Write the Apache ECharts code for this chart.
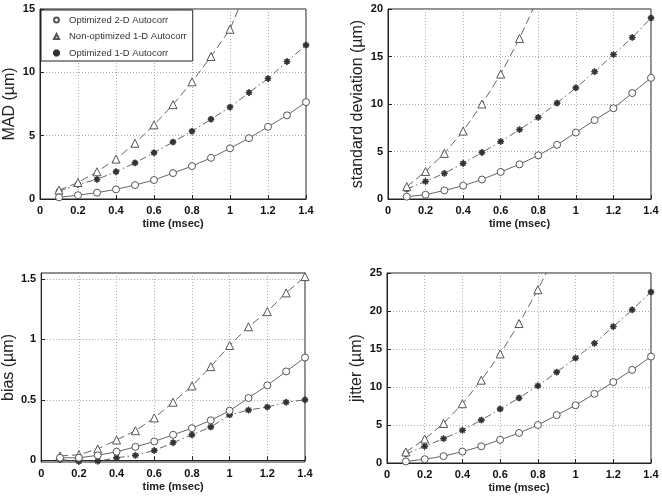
<!DOCTYPE html>
<html><head><meta charset="utf-8">
<script src="https://cdn.jsdelivr.net/npm/echarts@6/dist/echarts.min.js"></script>
<style>html,body{margin:0;padding:0;background:#fff}#c{width:662px;height:496px}</style>
</head><body><div id="c"></div>
<script>
const timeMs = [0.1,0.2,0.3,0.4,0.5,0.6,0.7,0.8,0.9,1.0,1.1,1.2,1.3,1.4];
const xTicks = [0,0.2,0.4,0.6,0.8,1,1.2,1.4];
const seriesNames = ['Optimized 2-D Autocorr','Non-optimized 1-D Autocorr','Optimized 1-D Autocorr'];

const madOpt2D    = [0.13,0.3,0.5,0.76,1.1,1.5,2.05,2.6,3.25,4.0,4.8,5.7,6.6,7.65];
const madNonOpt1D = [0.7,1.3,2.15,3.15,4.4,5.85,7.45,9.25,11.25,13.4,17.0];
const madOpt1D    = [0.6,1.15,1.55,2.15,2.85,3.65,4.5,5.35,6.3,7.25,8.4,9.5,10.85,12.15];

const stdOpt2D    = [0.25,0.45,0.9,1.4,2.05,2.85,3.65,4.6,5.7,7.0,8.3,9.55,11.15,12.75];
const stdNonOpt1D = [1.3,2.9,4.8,7.15,10.0,13.15,16.9,21.2];
const stdOpt1D    = [1.05,1.85,2.7,3.75,4.9,6.05,7.3,8.6,10.1,11.7,13.4,15.2,17.0,19.05];

const biasOpt2D    = [0.02,0.02,0.04,0.07,0.11,0.155,0.21,0.265,0.33,0.41,0.515,0.62,0.735,0.85];
const biasNonOpt1D = [0.035,0.045,0.093,0.167,0.244,0.35,0.48,0.615,0.775,0.95,1.105,1.23,1.385,1.52];
const biasOpt1D    = [0.005,-0.01,-0.008,0.02,0.04,0.08,0.145,0.21,0.275,0.375,0.415,0.44,0.48,0.5];

const jitOpt2D    = [0.2,0.5,0.9,1.5,2.2,3.05,3.95,5.0,6.3,7.6,9.1,10.65,12.25,14.0];
const jitNonOpt1D = [1.45,3.15,5.2,7.8,10.9,14.35,18.35,22.8,27.8];
const jitOpt1D    = [1.2,2.2,3.2,4.3,5.65,7.1,8.55,10.15,11.95,13.8,15.75,17.95,20.15,22.5];

const madTicks  = [0,5,10,15];
const stdTicks  = [0,5,10,15,20];
const biasTicks = [0,0.5,1,1.5];
const jitTicks  = [0,5,10,15,20,25];

const STAR = 'path://M4.3,0 L5.7,0 L5.7,10 L4.3,10 Z M0,4.3 L10,4.3 L10,5.7 L0,5.7 Z M1,2 L2,1 L9,8 L8,9 Z M8,1 L9,2 L2,9 L1,8 Z';
const FONT = 'Liberation Sans, Arial, sans-serif';

const panels = [
  {grid:{left:40, top:9, width:266, height:190}, name:'MAD (\u00b5m)', min:0, max:15, ticks:madTicks, data:[madOpt2D,madNonOpt1D,madOpt1D], nameGap:22},
  {grid:{left:388, top:9, width:263, height:190}, name:'standard deviation (\u00b5m)', min:0, max:20, ticks:stdTicks, data:[stdOpt2D,stdNonOpt1D,stdOpt1D], nameGap:22},
  {grid:{left:40, top:273, width:265, height:189}, name:'bias (\u00b5m)', min:-0.015, max:1.55, ticks:biasTicks, data:[biasOpt2D,biasNonOpt1D,biasOpt1D], nameGap:22},
  {grid:{left:387, top:273, width:264, height:190}, name:'jitter (\u00b5m)', min:0, max:25, ticks:jitTicks, data:[jitOpt2D,jitNonOpt1D,jitOpt1D], nameGap:22}
];

const grids=[], xAxes=[], yAxes=[], series=[];
const styles = [
  {symbol:'circle', size:7, line:'solid', fill:'#fff', border:'#555'},
  {symbol:'triangle', size:8, line:[8,4], fill:'#fff', border:'#555'},
  {symbol:STAR, size:6, line:[7,3,1.5,3], fill:'#333', border:'#333'}
];
panels.forEach((p,i)=>{
  grids.push(Object.assign({show:true, borderColor:'#222', borderWidth:1, backgroundColor:'#fff'}, p.grid));
  xAxes.push({type:'value', gridIndex:i, min:0, max:1.4, interval:0.2,
    name:'time (msec)', nameLocation:'middle', nameGap:19,
    nameTextStyle:{fontFamily:FONT, fontSize:11, fontWeight:'bold', color:'#222'},
    axisLine:{show:true, lineStyle:{color:'#222'}},
    axisTick:{show:true, inside:true, length:4, lineStyle:{color:'#222'}},
    axisLabel:{fontFamily:FONT, fontSize:11, fontWeight:'bold', color:'#111', margin:6,
      formatter:v=>String(Math.round(v*10)/10)},
    splitLine:{show:true, lineStyle:{color:'#aaa', type:[1,2]}}
  });
  const y = {type:'value', gridIndex:i, min:p.min, max:p.max,
    name:p.name, nameLocation:'middle', nameGap:p.nameGap, nameRotate:90,
    nameTextStyle:{fontFamily:FONT, fontSize:16, color:'#222'},
    axisLine:{show:true, lineStyle:{color:'#222'}},
    axisTick:{show:true, inside:true, length:4, lineStyle:{color:'#222'}, customValues:p.ticks},
    axisLabel:{fontFamily:FONT, fontSize:11, fontWeight:'bold', color:'#111', margin:5, customValues:p.ticks},
    splitLine:{show:true, lineStyle:{color:'#aaa', type:[1,2]}}
  };
  if (p.min===0) { y.interval = p.ticks[1]-p.ticks[0]; }
  yAxes.push(y);
  p.data.forEach((arr,k)=>{
    const s = styles[k];
    series.push({type:'line', name:seriesNames[k], xAxisIndex:i, yAxisIndex:i,
      data: arr.map((v,j)=>[timeMs[j], v]),
      symbol:s.symbol, symbolSize:s.size, showAllSymbol:true,
      lineStyle:{color:'#666', width:1, type:s.line},
      itemStyle:{color:s.fill, borderColor:s.border, borderWidth:1},
      clip:true, z: 3-k
    });
  });
});

const chart = echarts.init(document.getElementById('c'), null, {renderer:'canvas'});
chart.setOption({
  animation:false,
  backgroundColor:'#fff',
  grid:grids, xAxis:xAxes, yAxis:yAxes, series:series,
  legend:{left:41, top:10, orient:'vertical', itemGap:2.5, padding:[3,6,1,12],
    borderColor:'#222', borderWidth:1, backgroundColor:'#fff', borderRadius:0,
    itemWidth:5, itemHeight:5,
    textStyle:{fontFamily:FONT, fontSize:9.5, lineHeight:14, color:'#333', padding:[0,0,0,5]},
    data:[{name:seriesNames[0], icon:'circle'},{name:seriesNames[1], icon:'triangle'},{name:seriesNames[2], icon:STAR}]
  }
});
</script></body></html>
